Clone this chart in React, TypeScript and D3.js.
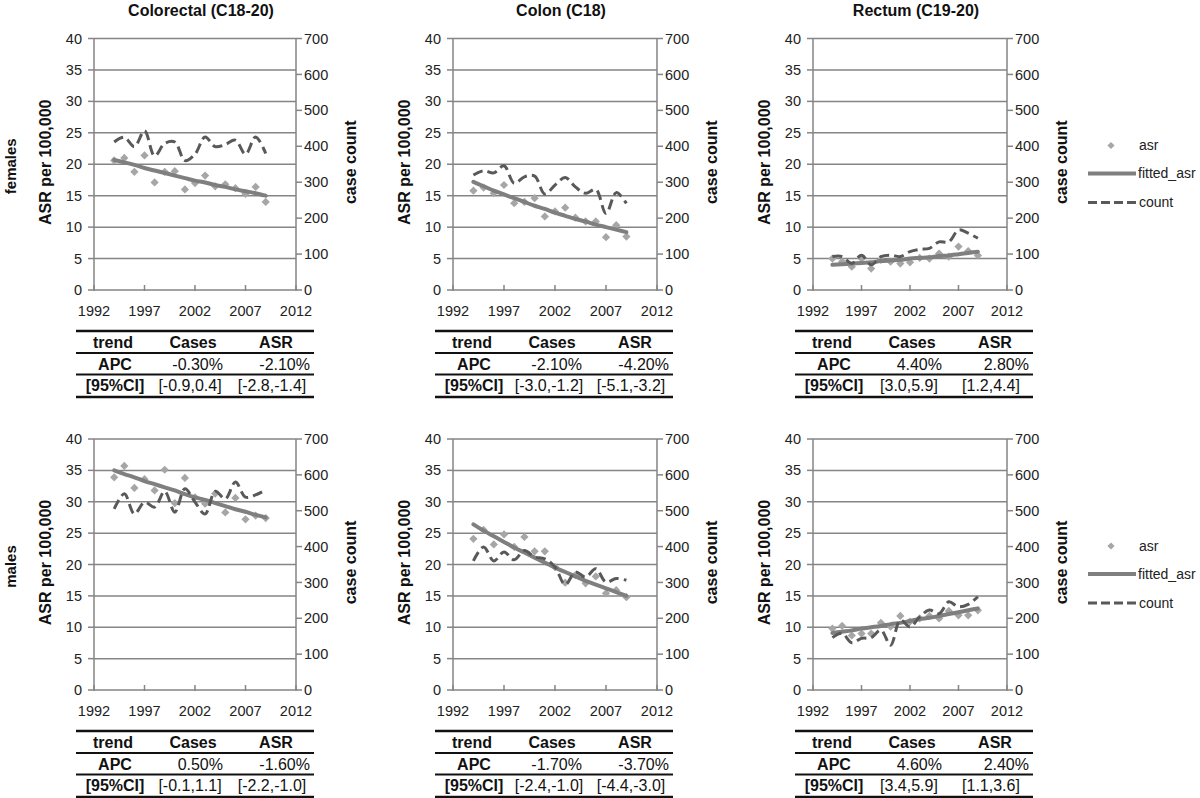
import React from "react";
import * as d3 from "d3";

const years = [1994, 1995, 1996, 1997, 1998, 1999, 2000, 2001, 2002, 2003, 2004, 2005, 2006, 2007, 2008, 2009];
const xTicks = [1992, 1997, 2002, 2007, 2012];
const asrTicks = [0, 5, 10, 15, 20, 25, 30, 35, 40];
const countTicks = [0, 100, 200, 300, 400, 500, 600, 700];

const titles = ["Colorectal (C18-20)", "Colon (C18)", "Rectum (C19-20)"];
const rowLabels = ["females", "males"];
const legendLabels = ["asr", "fitted_asr", "count"];

// females
const femColorectalAsr = [20.6, 21.0, 18.8, 21.4, 17.1, 18.8, 18.9, 16.0, 17.0, 18.2, 16.5, 16.8, 16.2, 15.3, 16.4, 14.0];
const femColorectalFit = [20.7, 20.3, 19.9, 19.4, 19.0, 18.6, 18.2, 17.8, 17.4, 17.1, 16.7, 16.4, 16.0, 15.7, 15.4, 15.0];
const femColorectalCount = [412, 425, 399, 443, 373, 408, 412, 360, 378, 426, 399, 405, 417, 378, 426, 380];

const femColonAsr = [15.8, 16.3, 15.4, 16.7, 13.8, 14.0, 14.6, 11.7, 12.5, 13.1, 11.5, 10.9, 10.9, 8.4, 10.3, 8.5];
const femColonFit = [17.2, 16.5, 15.8, 15.2, 14.6, 14.0, 13.4, 12.9, 12.3, 11.8, 11.3, 10.9, 10.4, 10.0, 9.6, 9.2];
const femColonCount = [320, 332, 326, 346, 297, 315, 317, 267, 292, 313, 287, 269, 280, 213, 271, 241];

const femRectumAsr = [5.0, 4.5, 3.7, 5.0, 3.4, 4.8, 4.5, 4.2, 4.4, 5.1, 5.0, 5.8, 5.3, 6.9, 6.2, 5.5];
const femRectumFit = [4.0, 4.1, 4.2, 4.3, 4.4, 4.6, 4.7, 4.8, 5.0, 5.1, 5.2, 5.4, 5.5, 5.7, 5.9, 6.1];
const femRectumCount = [93, 93, 74, 97, 70, 93, 97, 93, 107, 113, 116, 134, 134, 167, 158, 144];

// males
const maleColorectalAsr = [33.9, 35.7, 32.2, 33.6, 31.8, 35.1, 29.8, 33.8, 30.7, 29.7, 31.3, 28.3, 30.6, 27.2, 27.8, 27.4];
const maleColorectalFit = [35.0, 34.4, 33.9, 33.3, 32.8, 32.3, 31.8, 31.2, 30.7, 30.3, 29.8, 29.3, 28.8, 28.4, 27.9, 27.5];
const maleColorectalCount = [505, 547, 491, 524, 510, 554, 496, 561, 524, 491, 554, 533, 580, 538, 544, 558];

const maleColonAsr = [24.1, 25.5, 23.2, 24.8, 22.8, 24.4, 22.1, 22.1, 19.6, 17.1, 18.3, 17.0, 18.1, 15.4, 15.9, 14.8];
const maleColonFit = [26.4, 25.4, 24.5, 23.6, 22.7, 21.9, 21.1, 20.3, 19.5, 18.8, 18.1, 17.4, 16.8, 16.2, 15.6, 15.0];
const maleColonCount = [360, 399, 360, 385, 363, 389, 371, 366, 343, 294, 329, 315, 338, 301, 311, 306];

const maleRectumAsr = [9.8, 10.2, 8.7, 9.0, 9.0, 10.7, 10.1, 11.8, 10.9, 11.4, 11.8, 11.4, 12.6, 11.9, 11.9, 12.7];
const maleRectumFit = [9.1, 9.3, 9.5, 9.8, 10.0, 10.2, 10.5, 10.7, 11.0, 11.3, 11.5, 11.8, 12.1, 12.4, 12.7, 13.0];
const maleRectumCount = [146, 158, 132, 144, 146, 167, 125, 195, 176, 204, 223, 213, 246, 232, 239, 260];

// tables: [APC cases, APC asr, CI cases, CI asr]
const tableHeader = ["trend", "Cases", "ASR"];
const femColorectalTable = ["-0.30%", "-2.10%", "[-0.9,0.4]", "[-2.8,-1.4]"];
const femColonTable = ["-2.10%", "-4.20%", "[-3.0,-1.2]", "[-5.1,-3.2]"];
const femRectumTable = ["4.40%", "2.80%", "[3.0,5.9]", "[1.2,4.4]"];
const maleColorectalTable = ["0.50%", "-1.60%", "[-0.1,1.1]", "[-2.2,-1.0]"];
const maleColonTable = ["-1.70%", "-3.70%", "[-2.4,-1.0]", "[-4.4,-3.0]"];
const maleRectumTable = ["4.60%", "2.40%", "[3.4,5.9]", "[1.1,3.6]"];

const panelData = [
  [
    { asr: femColorectalAsr, fit: femColorectalFit, count: femColorectalCount, table: femColorectalTable },
    { asr: femColonAsr, fit: femColonFit, count: femColonCount, table: femColonTable },
    { asr: femRectumAsr, fit: femRectumFit, count: femRectumCount, table: femRectumTable },
  ],
  [
    { asr: maleColorectalAsr, fit: maleColorectalFit, count: maleColorectalCount, table: maleColorectalTable },
    { asr: maleColonAsr, fit: maleColonFit, count: maleColonCount, table: maleColonTable },
    { asr: maleRectumAsr, fit: maleRectumFit, count: maleRectumCount, table: maleRectumTable },
  ],
];

const COLS = [
  { x0: 94, x1: 296 },
  { x0: 453, x1: 657 },
  { x0: 813, x1: 1007 },
];
const ROWS = [
  { yTop: 38.5, yBot: 290 },
  { yTop: 439, yBot: 690 },
];

const FONT = "'Liberation Sans', Arial, Helvetica, sans-serif";
const GRID = "#858585";
const ASR_C = "#a6a6a6";
const FIT_C = "#7f7f7f";
const CNT_C = "#595959";

function Panel({ r, c }: { r: number; c: number }) {
  const { x0, x1 } = COLS[c];
  const { yTop, yBot } = ROWS[r];
  const d = panelData[r][c];
  const x = d3.scaleLinear().domain([1992, 2012]).range([x0, x1]);
  const yL = d3.scaleLinear().domain([0, 40]).range([yBot, yTop]);
  const yR = d3.scaleLinear().domain([0, 700]).range([yBot, yTop]);
  const cntLine = d3
    .line<number>()
    .x((_, i) => x(years[i]))
    .y((v) => yR(v))
    .curve(d3.curveCatmullRom.alpha(0.5));
  const fitLine = d3
    .line<number>()
    .x((_, i) => x(years[i]))
    .y((v) => yL(v))
    .curve(d3.curveMonotoneX);
  const diamond = d3.symbol().type(d3.symbolSquare).size(34)()!;
  const midY = (yTop + yBot) / 2 - 2;

  const L = x0 - 18;
  const tTop = yBot + 41;
  const rowH = [0, 22, 43.5, 66];
  const tb = d.table;

  return (
    <g>
      {asrTicks.filter((t) => t > 0).map((t) => (
        <line key={"g" + t} x1={x0} x2={x1} y1={yL(t)} y2={yL(t)} stroke={GRID} strokeWidth={1.5} />
      ))}
      <line x1={x0} x2={x0} y1={yTop} y2={yBot} stroke={GRID} strokeWidth={1.5} />
      <line x1={x1} x2={x1} y1={yTop} y2={yBot} stroke={GRID} strokeWidth={1.5} />
      <line x1={x0} x2={x1} y1={yBot} y2={yBot} stroke={GRID} strokeWidth={1.5} />
      {asrTicks.map((t) => (
        <g key={"l" + t}>
          <line x1={x0 - 6} x2={x0} y1={yL(t)} y2={yL(t)} stroke={GRID} strokeWidth={1.5} />
          <text x={x0 - 12} y={yL(t)} dy="0.35em" textAnchor="end" fontSize={14.5} fontFamily={FONT} fill="#222">
            {t}
          </text>
        </g>
      ))}
      {countTicks.map((t) => (
        <g key={"r" + t}>
          <line x1={x1} x2={x1 + 6} y1={yR(t)} y2={yR(t)} stroke={GRID} strokeWidth={1.5} />
          <text x={x1 + 8} y={yR(t)} dy="0.35em" textAnchor="start" fontSize={14.5} fontFamily={FONT} fill="#222">
            {t}
          </text>
        </g>
      ))}
      {xTicks.map((t) => (
        <g key={"x" + t}>
          <line x1={x(t)} x2={x(t)} y1={yBot - 5} y2={yBot + 1} stroke={GRID} strokeWidth={1.5} />
          <text x={x(t)} y={yBot + 26} textAnchor="middle" fontSize={14.5} fontFamily={FONT} fill="#222">
            {t}
          </text>
        </g>
      ))}
      <text
        transform={`translate(${x0 - 43},${midY}) rotate(-90)`}
        textAnchor="middle"
        fontSize={16}
        fontWeight="bold"
        fontFamily={FONT}
        fill="#111"
      >
        ASR per 100,000
      </text>
      <text
        transform={`translate(${x1 + 60},${midY}) rotate(-90)`}
        textAnchor="middle"
        fontSize={16}
        fontWeight="bold"
        fontFamily={FONT}
        fill="#111"
      >
        case count
      </text>
      {r === 0 && (
        <text x={(x0 + x1) / 2 + 6} y={16} textAnchor="middle" fontSize={16} fontWeight="bold" fontFamily={FONT} fill="#111">
          {titles[c]}
        </text>
      )}
      {d.asr.map((v, i) => (
        <path key={"a" + i} d={diamond} transform={`translate(${x(years[i])},${yL(v)}) rotate(45)`} fill={ASR_C} />
      ))}
      <path d={fitLine(d.fit)!} fill="none" stroke={FIT_C} strokeWidth={4} strokeLinecap="round" />
      <path d={cntLine(d.count)!} fill="none" stroke={CNT_C} strokeWidth={3} strokeDasharray="10,5" />
      {[0, 1, 2, 3].map((k) => (
        <line
          key={"t" + k}
          x1={L}
          x2={L + 238}
          y1={tTop + rowH[k]}
          y2={tTop + rowH[k]}
          stroke="#111"
          strokeWidth={k === 0 || k === 3 ? 2.4 : 2}
        />
      ))}
      <text x={L + 37} y={tTop + 17} textAnchor="middle" fontSize={16} fontWeight="bold" fontFamily={FONT} fill="#111">
        {tableHeader[0]}
      </text>
      <text x={L + 117} y={tTop + 17} textAnchor="middle" fontSize={16} fontWeight="bold" fontFamily={FONT} fill="#111">
        {tableHeader[1]}
      </text>
      <text x={L + 200} y={tTop + 17} textAnchor="middle" fontSize={16} fontWeight="bold" fontFamily={FONT} fill="#111">
        {tableHeader[2]}
      </text>
      <text x={L + 39} y={tTop + 38.5} textAnchor="middle" fontSize={16} fontWeight="bold" fontFamily={FONT} fill="#111">
        APC
      </text>
      <text x={L + 147} y={tTop + 38.5} textAnchor="end" fontSize={16} fontFamily={FONT} fill="#111">
        {tb[0]}
      </text>
      <text x={L + 234} y={tTop + 38.5} textAnchor="end" fontSize={16} fontFamily={FONT} fill="#111">
        {tb[1]}
      </text>
      <text x={L + 39} y={tTop + 60} textAnchor="middle" fontSize={16} fontWeight="bold" fontFamily={FONT} fill="#111">
        [95%CI]
      </text>
      <text x={L + 114} y={tTop + 60} textAnchor="middle" fontSize={16} fontFamily={FONT} fill="#111">
        {tb[2]}
      </text>
      <text x={L + 196} y={tTop + 60} textAnchor="middle" fontSize={16} fontFamily={FONT} fill="#111">
        {tb[3]}
      </text>
      {c === 2 && (
        <g fontFamily={FONT} fontSize={14} fill="#222">
          <path d={d3.symbol().type(d3.symbolSquare).size(26)()!} transform={`translate(1111,${yTop + 107}) rotate(45)`} fill={ASR_C} />
          <text x={1139} y={yTop + 107} dy="0.35em">
            {legendLabels[0]}
          </text>
          <line x1={1088} x2={1136} y1={yTop + 135} y2={yTop + 135} stroke={FIT_C} strokeWidth={4} />
          <text x={1138} y={yTop + 135} dy="0.35em">
            {legendLabels[1]}
          </text>
          <line x1={1088} x2={1136} y1={yTop + 164} y2={yTop + 164} stroke={CNT_C} strokeWidth={3} strokeDasharray="9,4" />
          <text x={1139} y={yTop + 164} dy="0.35em">
            {legendLabels[2]}
          </text>
        </g>
      )}
    </g>
  );
}

export default function App() {
  return (
    <svg
      width={1200}
      height={798}
      style={{ position: "absolute", left: 0, top: 0, background: "#fff" }}
    >
      <rect width={1200} height={798} fill="#fff" />
      {ROWS.map((row, r) => (
        <text
          key={"rl" + r}
          transform={`translate(16,${(row.yTop + row.yBot) / 2 + 2}) rotate(-90)`}
          textAnchor="middle"
          fontSize={15}
          fontWeight="bold"
          fontFamily={FONT}
          fill="#111"
        >
          {rowLabels[r]}
        </text>
      ))}
      {[0, 1].map((r) => [0, 1, 2].map((c) => <Panel key={r + "-" + c} r={r} c={c} />))}
    </svg>
  );
}
